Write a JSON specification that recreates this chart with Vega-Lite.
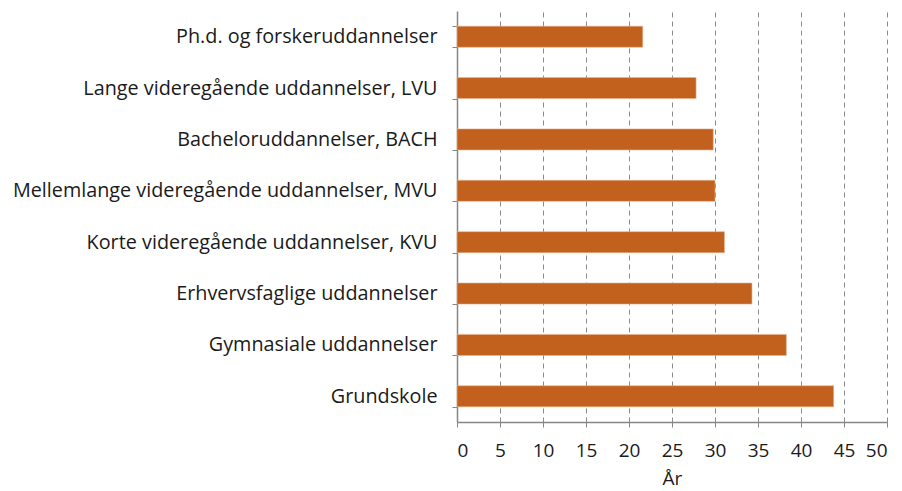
{
  "$schema": "https://vega.github.io/schema/vega-lite/v6.json",
  "autosize": "none",
  "width": 430,
  "height": 411,
  "padding": {"left": 457, "top": 11, "right": 15, "bottom": 69},
  "background": "white",
  "config": {"view": {"stroke": null}, "font": "Open Sans"},
  "data": {"values": [
    {"uddannelse": "Ph.d. og forskeruddannelser", "aar": 21.6},
    {"uddannelse": "Lange videregående uddannelser, LVU", "aar": 27.8},
    {"uddannelse": "Bacheloruddannelser, BACH", "aar": 29.8},
    {"uddannelse": "Mellemlange videregående uddannelser, MVU", "aar": 30.0},
    {"uddannelse": "Korte videregående uddannelser, KVU", "aar": 31.1},
    {"uddannelse": "Erhvervsfaglige uddannelser", "aar": 34.3},
    {"uddannelse": "Gymnasiale uddannelser", "aar": 38.3},
    {"uddannelse": "Grundskole", "aar": 43.8}
  ]},
  "mark": {"type": "bar", "color": "#C2601D", "stroke": "#E8B48E", "strokeWidth": 0.6},
  "encoding": {
    "y": {
      "field": "uddannelse", "type": "nominal", "sort": null,
      "scale": {"paddingInner": 0.59, "paddingOuter": 0.295},
      "axis": {
        "title": null, "domainColor": "#868686", "domainWidth": 1.5,
        "tickColor": "#868686", "tickSize": 5, "tickBand": "extent", "tickWidth": 1,
        "labelFontSize": 19.8, "labelColor": "#1a1a1a", "labelPadding": 15, "labelLimit": 0
      }
    },
    "x": {
      "field": "aar", "type": "quantitative",
      "scale": {"domain": [0, 50], "nice": false},
      "axis": {
        "title": "År", "titleFontSize": 19, "titleFontWeight": "normal", "titleColor": "#1a1a1a", "titlePadding": 9,
        "values": [0,5,10,15,20,25,30,35,40,45,50],
        "domainColor": "#868686", "domainWidth": 1.5,
        "tickColor": "#868686", "tickSize": 5,
        "labelFontSize": 19, "labelColor": "#1a1a1a", "labelPadding": 14,
        "grid": true, "gridColor": "#8a8a8a", "gridDash": [5, 4], "gridWidth": 1
      }
    }
  }
}
